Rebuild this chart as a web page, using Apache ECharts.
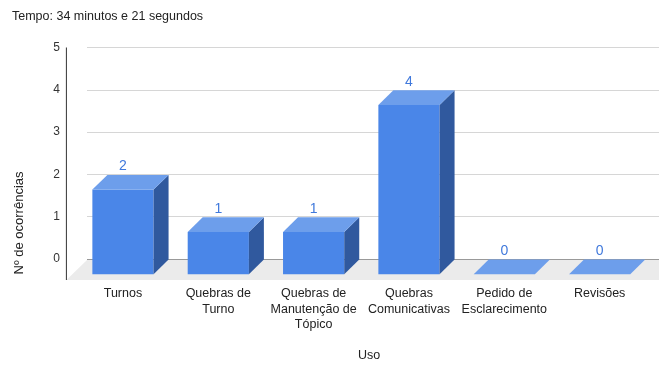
<!DOCTYPE html>
<html>
<head>
<meta charset="utf-8">
<script src="https://cdn.jsdelivr.net/npm/echarts@6/dist/echarts.min.js"></script>
<style>
  html, body { margin: 0; padding: 0; background: #ffffff; }
  #chart { width: 659px; height: 367px; }
</style>
</head>
<body>
<div id="chart"></div>
<script>
// Occurrences per category of use
const categories = [
  'Turnos',
  'Quebras de\nTurno',
  'Quebras de\nManutenção de\nTópico',
  'Quebras\nComunicativas',
  'Pedido de\nEsclarecimento',
  'Revisões'
];
const occurrences = [2, 1, 1, 4, 0, 0];
const yMin = 0;
const yMax = 5;
const yStep = 1;

// Pseudo-3D geometry (pixels): bar depth, floor depth and front-face shift
const BAR_DX = 15;
const BAR_DY = 14.7;
const FRONT_SHIFT = 11.7;
const BAR_WIDTH_RATIO = 0.642;
const FLOOR_DX = 20.6;
const FLOOR_DY = 21;

const COLOR_FRONT = '#4a86e8';
const COLOR_TOP = '#6d9eeb';
const COLOR_SIDE = '#30599e';
const COLOR_LABEL = '#4079dc';
const FONT = '"Liberation Sans", Arial, sans-serif';

const chart = echarts.init(document.getElementById('chart'), null, { renderer: 'canvas' });

// Grey floor plane and the front vertical axis line
function renderFloor(params, api) {
  const cs = params.coordSys;
  const baseY = cs.y + cs.height;
  return {
    type: 'group',
    children: [
      {
        type: 'polygon',
        shape: {
          points: [
            [cs.x, baseY + 1],
            [cs.x + cs.width + FLOOR_DX + 12, baseY + 1],
            [cs.x + cs.width + 12, baseY + FLOOR_DY],
            [cs.x - FLOOR_DX, baseY + FLOOR_DY]
          ]
        },
        style: { fill: '#ebebeb' },
        silent: true
      },
      {
        type: 'line',
        shape: {
          x1: cs.x - FLOOR_DX, y1: cs.y,
          x2: cs.x - FLOOR_DX, y2: baseY + FLOOR_DY
        },
        style: { stroke: '#333333', lineWidth: 1 },
        silent: true
      }
    ]
  };
}

// One box per category: front face, right side, top face and value label
function renderBar(params, api) {
  const idx = api.value(0);
  const val = api.value(1);
  const top = api.coord([idx, val]);
  const base = api.coord([idx, 0]);
  const band = api.size([1, 0])[0];
  const w = band * BAR_WIDTH_RATIO;
  const cx = top[0] - FRONT_SHIFT;
  const xl = cx - w / 2;
  const xr = cx + w / 2;
  const yT = top[1] + 0.5;
  const yB = base[1] + 0.5;
  const children = [];
  if (yB - yT > 0.5) {
    children.push({
      type: 'rect',
      shape: { x: xl, y: yT + BAR_DY, width: w, height: yB - yT },
      style: { fill: COLOR_FRONT }
    });
    children.push({
      type: 'polygon',
      shape: { points: [[xr, yT + BAR_DY], [xr + BAR_DX, yT], [xr + BAR_DX, yB], [xr, yB + BAR_DY]] },
      style: { fill: COLOR_SIDE }
    });
  }
  children.push({
    type: 'polygon',
    shape: { points: [[xl, yT + BAR_DY], [xr, yT + BAR_DY], [xr + BAR_DX, yT], [xl + BAR_DX, yT]] },
    style: { fill: COLOR_TOP }
  });
  children.push({
    type: 'text',
    x: cx,
    y: yT - 1.5,
    style: {
      text: String(val),
      fill: COLOR_LABEL,
      font: '14px ' + FONT,
      align: 'center',
      verticalAlign: 'bottom'
    }
  });
  return { type: 'group', children: children };
}

const option = {
  animation: false,
  backgroundColor: '#ffffff',
  title: {
    text: 'Tempo: 34 minutos e 21 segundos',
    left: 12,
    top: 10,
    padding: 0,
    textStyle: { fontFamily: FONT, fontSize: 12.5, fontWeight: 'normal', color: '#222222' }
  },
  grid: { left: 87, right: 0, top: 47.5, bottom: 104.7 },
  xAxis: {
    type: 'category',
    data: categories,
    axisLine: { show: false },
    axisTick: { show: false },
    axisLabel: {
      interval: 0,
      margin: 27,
      fontFamily: FONT,
      fontSize: 12.5,
      lineHeight: 15.5,
      color: '#222222',
      padding: [0, FRONT_SHIFT * 2, 0, 0]
    },
    name: 'Uso',
    nameLocation: 'middle',
    nameGap: 90,
    nameTextStyle: { fontFamily: FONT, fontSize: 12.5, color: '#222222', padding: [0, 8, 0, 0] }
  },
  yAxis: {
    type: 'value',
    min: yMin,
    max: yMax,
    interval: yStep,
    axisLine: { show: false },
    axisTick: { show: false },
    axisLabel: { margin: 27, fontFamily: FONT, fontSize: 12, color: '#333333' },
    splitLine: {
      lineStyle: { color: ['#999999', '#d6d6d6', '#d6d6d6', '#d6d6d6', '#d6d6d6', '#d6d6d6'], width: 1 }
    }
  },
  graphic: [
    {
      type: 'text',
      x: 19.5,
      y: 223,
      rotation: Math.PI / 2,
      style: {
        text: 'Nº de ocorrências',
        font: '13px ' + FONT,
        fill: '#222222',
        align: 'center',
        verticalAlign: 'middle'
      }
    }
  ],
  series: [
    {
      type: 'custom',
      renderItem: renderFloor,
      data: [[0, 0]],
      silent: true,
      z: 1
    },
    {
      type: 'custom',
      renderItem: renderBar,
      data: occurrences.map((v, i) => [i, v]),
      z: 2
    }
  ]
};

chart.setOption(option);
</script>
</body>
</html>
